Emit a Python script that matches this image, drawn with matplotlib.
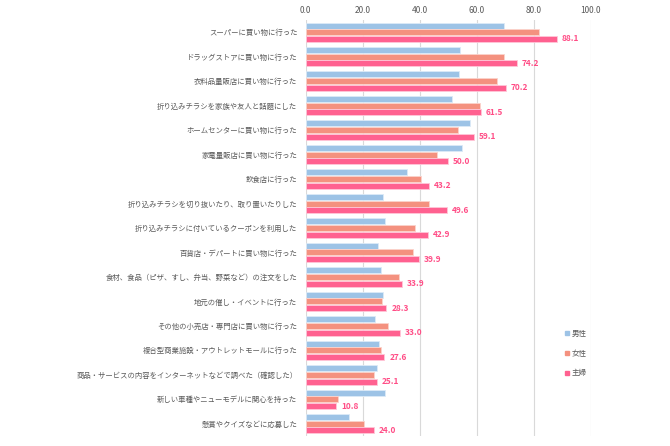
import matplotlib
matplotlib.use('Agg')
import matplotlib.pyplot as plt
import numpy as np
from matplotlib.lines import Line2D

plt.rcParams['font.family'] = ['Noto Sans CJK JP', 'DejaVu Sans']

# categories top to bottom
categories = [
    'スーパーに買い物に行った',
    'ドラッグストアに買い物に行った',
    '衣料品量販店に買い物に行った',
    '折り込みチラシを家族や友人と話題にした',
    'ホームセンターに買い物に行った',
    '家電量販店に買い物に行った',
    '飲食店に行った',
    '折り込みチラシを切り抜いたり、取り置いたりした',
    '折り込みチラシに付いているクーポンを利用した',
    '百貨店・デパートに買い物に行った',
    '食材、食品（ピザ、すし、弁当、野菜など）の注文をした',
    '地元の催し・イベントに行った',
    'その他の小売店・専門店に買い物に行った',
    '複合型商業施設・アウトレットモールに行った',
    '商品・サービスの内容をインターネットなどで調べた（確認した）',
    '新しい車種やニューモデルに関心を持った',
    '懸賞やクイズなどに応募した',
]
male = [69.6, 54.0, 53.8, 51.2, 57.5, 54.8, 35.5, 27.0, 27.9, 25.5, 26.3, 27.0, 24.2, 25.7, 25.0, 27.8, 15.2]
female = [81.9, 69.5, 67.1, 61.0, 53.4, 46.0, 40.5, 43.2, 38.2, 37.6, 32.7, 26.9, 28.9, 26.4, 24.0, 11.4, 20.3]
housewife = [88.1, 74.2, 70.2, 61.5, 59.1, 50.0, 43.2, 49.6, 42.9, 39.9, 33.9, 28.3, 33.0, 27.6, 25.1, 10.8, 24.0]
series_names = ['男性', '女性', '主婦']

c_male = '#9DC3E6'
c_female = '#F4917F'
c_hw = '#FF6190'
c_text = '#FF4D86'

fig = plt.figure(figsize=(6.7, 4.46), dpi=100)
ax = fig.add_axes([305.7 / 670, 1 - 436 / 446, 285 / 670, 416 / 446])

y = np.arange(len(categories))
h = 0.245
off = 0.275
ax.barh(y - off, male, height=h, color=c_male, edgecolor='#DCEAF7', linewidth=0.6, zorder=3)
ax.barh(y, female, height=h, color=c_female, edgecolor='#FBD3CC', linewidth=0.6, zorder=3)
bars = ax.barh(y + off, housewife, height=h, color=c_hw, edgecolor='#FFC7D8', linewidth=0.6, zorder=3)

for b, v in zip(bars, housewife):
    ax.annotate(f'{v:.1f}', (v, b.get_y() + b.get_height() / 2), xytext=(3.5, 0),
                textcoords='offset points', va='center', ha='left',
                fontsize=6.0, color=c_text, fontweight='bold')

ax.set_xlim(0, 100)
ax.set_ylim(len(categories) - 0.5, -0.5)
ax.set_xticks(np.arange(0, 101, 20))
ax.set_xticklabels([f'{t:.1f}' for t in np.arange(0, 101, 20)])
ax.xaxis.tick_top()
ax.tick_params(axis='x', length=0, pad=3.5, labelsize=6.0, labelcolor='#595959')
ax.set_yticks(y)
ax.set_yticklabels(categories)
ax.tick_params(axis='y', length=0, pad=6, labelsize=5.3, labelcolor='#595959')
ax.grid(axis='x', color='#D9D9D9', linewidth=0.8, zorder=0)
for s in ax.spines.values():
    s.set_visible(False)

handles = [Line2D([], [], marker='s', linestyle='', markersize=3.2, color=c)
           for c in [c_male, c_female, c_hw]]
leg = ax.legend(handles, series_names, loc='upper left', bbox_to_anchor=(0.9, 0.262),
                frameon=False, fontsize=5.4, labelspacing=1.55, handlelength=0.5,
                handletextpad=0.4, borderaxespad=0)
for t in leg.get_texts():
    t.set_color('#595959')

fig.savefig('out.png', dpi=100)
